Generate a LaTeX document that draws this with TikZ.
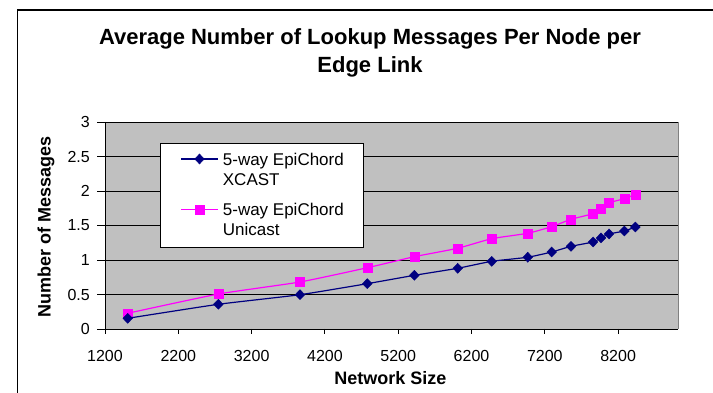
\documentclass[tikz,border=0pt]{standalone}
\usepackage{fontspec}
\setmainfont{Liberation Sans}
\usetikzlibrary{plotmarks,positioning}
\definecolor{lkInk}{HTML}{000000}
\definecolor{lkPlotFill}{HTML}{C0C0C0}
\definecolor{lkPlotEdge}{HTML}{808080}
\definecolor{lkNavy}{HTML}{000080}
\definecolor{lkMagenta}{HTML}{FF00FF}
\tikzset{
  lkGrid/.style={draw=lkInk,line width=0.9pt},
  lkAxis/.style={draw=lkInk,line width=0.9pt},
  lkXcast/.style={color=lkNavy,line width=1.2pt},
  lkXcastMark/.style={lkXcast,mark=diamond*,mark size=5pt,
    mark options={xscale=1.3,line width=0.4pt,solid}},
  lkUnicast/.style={color=lkMagenta,line width=1.2pt},
  lkUnicastMark/.style={lkUnicast,mark=square*,mark size=4.5pt,
    mark options={line width=0.4pt,solid}}
}

\begin{document}
\begin{tikzpicture}[x=1pt,y=1pt,
  title/.style={font=\bfseries\fontsize{22}{28}\selectfont,inner sep=0pt},
  axtitle/.style={font=\bfseries\fontsize{18}{21}\selectfont,inner sep=0pt},
  ticklabel/.style={font=\fontsize{16}{19}\selectfont,inner sep=0pt},
  legendtext/.style={font=\fontsize{17}{20}\selectfont,align=left,inner sep=0pt}]
\useasboundingbox (0,0) rectangle (713,393);
\clip (0,0) rectangle (713,393);
\fill[white] (0,0) rectangle (713,393);
\draw[line width=1.3pt] (17.3,-20) -- (17.3,383) -- (740,383);

\node[title,anchor=base] (title) at (370,348) {Average Number of Lookup Messages Per Node per};
\node[title,anchor=base] (title2) at (370,320) {Edge Link};

\begin{scope}[shift={(17.04,64)},x=0.0733pt,y=69pt]
  \fill[lkPlotFill] (1200,0) rectangle (9017,3);
  \foreach \v in {0.5,1,1.5,2,2.5,3}
    \draw[lkGrid] (1200,\v) -- (9017,\v);
  \draw[draw=lkPlotEdge,line width=0.9pt] (9017,0) -- (9017,3);
  \draw[lkAxis] (1200,3) -- (1200,0) -- (9017,0);
  \foreach \v [count=\i] in {0,0.5,1,1.5,2,2.5,3} {
    \draw[lkAxis] (1200,\v) -- ++(-8pt,0);
    \node[ticklabel,anchor=east,xshift=-15pt] (yt\i) at (1200,\v) {\v};
  }
  \foreach \v in {1200,2200,...,8200} {
    \draw[lkAxis] (\v,0) -- ++(0,-5pt);
    \node[ticklabel,anchor=base,yshift=-32.7pt] (xt\v) at (\v,0) {\v};
  }
  \draw[lkUnicastMark] plot[smooth,tension=0.3] coordinates {
    (1510,0.228) (2746,0.507) (3860,0.681) (4778,0.888) (5420,1.048)
    (6012,1.17) (6476,1.309) (6967,1.387) (7294,1.483) (7557,1.59)
    (7858,1.671) (7967,1.749) (8076,1.83) (8285,1.888) (8435,1.952)};
  \draw[lkXcastMark] plot[smooth,tension=0.3] coordinates {
    (1510,0.155) (2746,0.358) (3860,0.497) (4778,0.657) (5420,0.778)
    (6012,0.880) (6476,0.981) (6967,1.04) (7294,1.116) (7557,1.198)
    (7858,1.261) (7967,1.32) (8076,1.377) (8285,1.42) (8435,1.478)};
\end{scope}

\node[axtitle,anchor=base] (xtitle) at (390.5,8) {Network Size};
\node[axtitle,rotate=90] (ytitle) at (46,166) {Number of Messages};

\node[draw=lkInk,fill=white,line width=0.9pt,minimum width=203pt,
  minimum height=104pt,inner sep=0pt,anchor=south west] (legend) at (160,145) {};
\coordinate (lgXa) at (181,234);
\coordinate (lgXb) at (218,234);
\draw[lkXcast] (lgXa) -- (lgXb);
\draw[lkXcastMark] plot[only marks] coordinates {(199.5,234)};
\node[legendtext,anchor=west] (lgXtext) at (222.7,224) {5-way EpiChord\\XCAST};
\coordinate (lgUa) at (181,183.3);
\coordinate (lgUb) at (218,183.3);
\draw[lkUnicast] (lgUa) -- (lgUb);
\draw[lkUnicastMark] plot[only marks] coordinates {(199.5,183.3)};
\node[legendtext,anchor=west] (lgUtext) at (222.7,173.7) {5-way EpiChord\\Unicast};
\end{tikzpicture}
\end{document}
